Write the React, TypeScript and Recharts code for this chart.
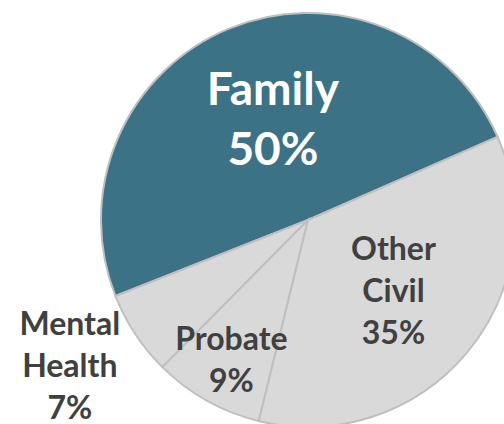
import React from 'react';
import { PieChart, Pie, Cell } from 'recharts';

// Slice shares (angles), with the printed labels
const categories = ['Family', 'Mental Health', 'Probate', 'Other Civil'];
const shares = [49.4, 6.6, 8.6, 35.4];
const percentLabels = ['50%', '7%', '9%', '35%'];
const labelLines = [['Family'], ['Mental', 'Health'], ['Probate'], ['Other', 'Civil']];

const COLORS = ['#3c7285', '#d9d9d9', '#d9d9d9', '#d9d9d9'];
const LABEL_COLORS = ['#ffffff', '#404040', '#404040', '#404040'];
const LABEL_SIZES = [46, 32, 32, 32];
const LABEL_GAPS = [60, 42, 42, 42];
const LABEL_RADIUS = [0.5, 1.36, 0.79, 0.55];
const LABEL_ANGLE_SHIFT = [-2.8, -1.2, 1.3, -1.3];

const data = categories.map((name, i) => ({ name, value: shares[i] }));

const RADIAN = Math.PI / 180;

const renderLabel = (props: any) => {
  const { cx, cy, midAngle, outerRadius, index } = props;
  const r = outerRadius * LABEL_RADIUS[index];
  const a = (midAngle + LABEL_ANGLE_SHIFT[index]) * RADIAN;
  const x = cx + r * Math.cos(-a);
  const y = cy + r * Math.sin(-a) - 6;
  const lines = [...labelLines[index], percentLabels[index]];
  const gap = LABEL_GAPS[index];
  const top = y - ((lines.length - 1) * gap) / 2;
  return (
    <text
      key={`label-${index}`}
      x={x}
      y={top}
      textAnchor="middle"
      dominantBaseline="central"
      fill={LABEL_COLORS[index]}
      fontSize={LABEL_SIZES[index]}
      fontWeight="bold"
      fontFamily="Lato, 'Open Sans', sans-serif"
    >
      {lines.map((l, j) => (
        <tspan key={j} x={x} y={top + j * gap}>
          {l}
        </tspan>
      ))}
    </text>
  );
};

const App: React.FC = () => {
  return (
    <div style={{ position: 'absolute', left: 0, top: 0, width: 504, height: 424, background: '#fff' }}>
      <PieChart width={504} height={424}>
        <Pie
          data={data}
          dataKey="value"
          cx={303}
          cy={215}
          outerRadius={207}
          startAngle={23.7}
          endAngle={383.7}
          stroke="#bfbfbf"
          strokeWidth={2}
          label={renderLabel}
          labelLine={false}
          isAnimationActive={false}
        >
          {data.map((entry, index) => (
            <Cell key={`cell-${index}`} fill={COLORS[index]} />
          ))}
        </Pie>
      </PieChart>
    </div>
  );
};

export default App;
